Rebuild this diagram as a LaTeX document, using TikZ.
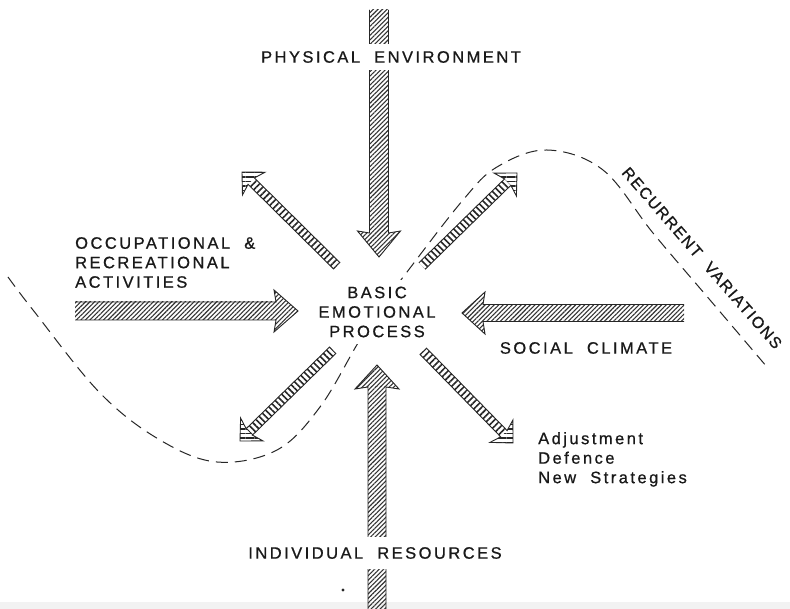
\documentclass[tikz,border=0pt]{standalone}
\usepackage{fontspec}
\setmainfont{Liberation Sans}
\newfontfamily\labfont[LetterSpace=15,WordSpace=2,FakeBold=0.8]{Liberation Sans}
\newfontfamily\rvfont[LetterSpace=10,WordSpace=2,FakeBold=0.8]{Liberation Sans}
\usetikzlibrary{calc,patterns.meta}
\tikzset{
  ink/.style={draw=black!85,line width=0.9pt,line join=miter},
  bighatch/.style={pattern={Lines[angle=45,distance=3.2pt,line width=1.1pt]},pattern color=black!80},
  headhatch/.style={pattern={Lines[angle=0,distance=4.5pt,line width=1.6pt]},pattern color=black!85},
  ropeA/.style={pattern={Lines[angle=45,distance=4.5pt,line width=1.6pt]},pattern color=black!85},
  ropeB/.style={pattern={Lines[angle=-45,distance=4.5pt,line width=1.6pt]},pattern color=black!85},
  lbl/.style={font=\labfont\fontsize{16.5}{19.5}\selectfont,text=black!90,inner sep=0pt},
  rvlbl/.style={font=\rvfont\fontsize{16}{19.5}\selectfont,text=black!90,inner sep=0pt},
  wavy/.style={draw=black!85,line width=1pt,dash pattern=on 12pt off 7pt},
}
\newcommand\fatarrow[9]{%
  \coordinate (hb) at ($(#2)!#4!(#1)$);
  \coordinate (cb) at ($(#2)!#5!(#1)$);
  \fill[#7] ($(#1)!#3!90:(#2)$) -- ($(hb)!#3!-90:(#1)$) -- ($(hb)!#3!90:(#1)$) -- ($(#1)!#3!-90:(#2)$) -- cycle;
  \fill[#8] ($(hb)!#3!-90:(#1)$) -- ($(cb)!#6!-90:(#1)$) -- (#2) -- ($(cb)!#6!90:(#1)$) -- ($(hb)!#3!90:(#1)$) -- cycle;
  \draw[#9] ($(#1)!#3!90:(#2)$) -- ($(hb)!#3!-90:(#1)$) -- ($(cb)!#6!-90:(#1)$) -- (#2) -- ($(cb)!#6!90:(#1)$) -- ($(hb)!#3!90:(#1)$) -- ($(#1)!#3!-90:(#2)$);
}
\begin{document}
\begin{tikzpicture}[x=1pt,y=-1pt]
\useasboundingbox (0,0) rectangle (790,609);
\clip (0,0) rectangle (790,609);
\fill[white] (0,0) rectangle (790,609);
\fill[black!5] (0,602) rectangle (790,609);
\draw[wavy] plot[smooth,tension=0.6] coordinates {(8,277) (33,310) (100,393) (160,440) (217,462) (277,450) (320,407) (358,343) (382,306) (407,272) (463,200) (497,167) (547,150) (603,170) (653,233) (710,300) (767,367)};
\coordinate (peTail) at (379,10);
\coordinate (peTip) at (379,257);
\coordinate (irTail) at (377,640);
\coordinate (irTip) at (377,365);
\coordinate (ocTail) at (75,311);
\coordinate (ocTip) at (298,311);
\coordinate (scTail) at (684,313);
\coordinate (scTip) at (462,313);
\coordinate (ulTail) at (337,266);
\coordinate (ulTip) at (242,172);
\coordinate (urTail) at (422,266);
\coordinate (urTip) at (517,173);
\coordinate (llTail) at (333,350);
\coordinate (llTip) at (240,441);
\coordinate (lrTail) at (423,351);
\coordinate (lrTip) at (513,443);
\fatarrow{peTail}{peTip}{9.5pt}{24pt}{26pt}{21.5pt}{bighatch}{bighatch}{ink}
\fatarrow{irTail}{irTip}{9pt}{22pt}{24pt}{22pt}{bighatch}{bighatch}{ink}
\fatarrow{ocTail}{ocTip}{9pt}{22pt}{24pt}{21pt}{bighatch}{bighatch}{ink}
\fatarrow{scTail}{scTip}{8.5pt}{21pt}{23pt}{21pt}{bighatch}{bighatch}{ink}
\fatarrow{ulTail}{ulTip}{4.5pt}{13pt}{16.5pt}{16pt}{ropeA}{headhatch}{ink}
\fatarrow{urTail}{urTip}{4.5pt}{13pt}{16.5pt}{16pt}{ropeB}{headhatch}{ink}
\fatarrow{llTail}{llTip}{4.5pt}{13pt}{16.5pt}{16pt}{ropeB}{headhatch}{ink}
\fatarrow{lrTail}{lrTip}{4.5pt}{13pt}{16.5pt}{16pt}{ropeA}{headhatch}{ink}
\fill[black!85] (343,590) circle[radius=1.6pt];
\node[lbl,fill=white,inner xsep=4pt,inner ysep=7.5pt] (pe) at (391,57) {PHYSICAL ENVIRONMENT};
\node[lbl,fill=white,inner xsep=4pt,inner ysep=10pt] (ir) at (375,553) {INDIVIDUAL RESOURCES};
\node[lbl,fill=white,align=center,inner sep=7pt] (bep) at (377,312) {BASIC\\EMOTIONAL\\PROCESS};
\node[lbl,align=left,anchor=north west] (oc) at (75,237) {OCCUPATIONAL \&\\RECREATIONAL\\ACTIVITIES};
\node[lbl] (sc) at (586,348) {SOCIAL CLIMATE};
\node[lbl,align=left,anchor=north west] (ad) at (538,432) {Adjustment\\Defence\\New Strategies};
\node[rvlbl,rotate=-49] (rv) at (702,258) {RECURRENT VARIATIONS};
\end{tikzpicture}
\end{document}
